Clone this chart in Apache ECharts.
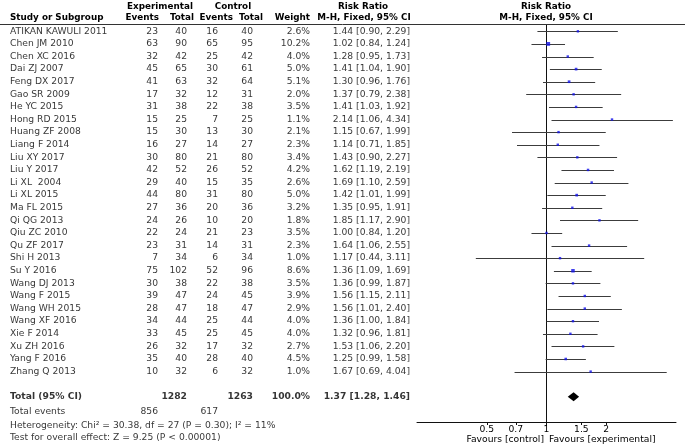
<!DOCTYPE html>
<html><head><meta charset="utf-8">
<script src="https://cdn.jsdelivr.net/npm/echarts@6/dist/echarts.min.js"></script>
<style>html,body{margin:0;padding:0;background:#fff}#c{width:685px;height:448px}</style>
</head><body><div id="c"></div>
<script>
// ---- data ----
const studies = ['ATIKAN KAWULI 2011','Chen JM 2010','Chen XC 2016','Dai ZJ 2007','Feng DX 2017','Gao SR 2009','He YC 2015','Hong RD 2015','Huang ZF 2008','Liang F 2014','Liu XY 2017','Liu Y 2017','Li XL  2004','Li XL 2015','Ma FL 2015','Qi QG 2013','Qiu ZC 2010','Qu ZF 2017','Shi H 2013','Su Y 2016','Wang DJ 2013','Wang F 2015','Wang WH 2015','Wang XF 2016','Xie F 2014','Xu ZH 2016','Yang F 2016','Zhang Q 2013'];
const expEvents = [23,63,32,45,41,17,31,15,15,16,30,42,29,44,27,24,22,23,7,75,30,39,28,34,33,26,35,10];
const expTotal  = [40,90,42,65,63,32,38,25,30,27,80,52,40,80,36,26,24,31,34,102,38,47,47,44,45,32,40,32];
const ctrlEvents= [16,65,25,30,32,12,22,7,13,14,21,26,15,31,20,10,21,14,6,52,22,24,18,25,25,17,28,6];
const ctrlTotal = [40,95,42,61,64,31,38,25,30,27,80,52,35,80,36,20,23,31,34,96,38,45,47,44,45,32,40,32];
const weights   = [2.6,10.2,4.0,5.0,5.1,2.0,3.5,1.1,2.1,2.3,3.4,4.2,2.6,5.0,3.2,1.8,3.5,2.3,1.0,8.6,3.5,3.9,2.9,4.0,4.0,2.7,4.5,1.0];
const rr        = [1.44,1.02,1.28,1.41,1.30,1.37,1.41,2.14,1.15,1.14,1.43,1.62,1.69,1.42,1.35,1.85,1.00,1.64,1.17,1.36,1.36,1.56,1.56,1.36,1.32,1.53,1.25,1.67];
const ciLow     = [0.90,0.84,0.95,1.04,0.96,0.79,1.03,1.06,0.67,0.71,0.90,1.19,1.10,1.01,0.95,1.17,0.84,1.06,0.44,1.09,0.99,1.15,1.01,1.00,0.96,1.06,0.99,0.69];
const ciHigh    = [2.29,1.24,1.73,1.90,1.76,2.38,1.92,4.34,1.99,1.85,2.27,2.19,2.59,1.99,1.91,2.90,1.20,2.55,3.11,1.69,1.87,2.11,2.40,1.84,1.81,2.20,1.58,4.04];
const totalExp = 1282, totalCtrl = 1263, totalWeight = 100.0;
const totalRR = 1.37, totalLow = 1.28, totalHigh = 1.46;
const totalEventsExp = 856, totalEventsCtrl = 617;
const heterogeneityText = 'Heterogeneity: Chi\u00b2 = 30.38, df = 27 (P = 0.30); I\u00b2 = 11%';
const overallText = 'Test for overall effect: Z = 9.25 (P < 0.00001)';
const tickValues = [0.5, 0.7, 1, 1.5, 2];

// ---- layout ----
const FONT = 'DejaVu Sans';
const FS = 9.2;
const HFS = 8.8;
const TXT = '#000';
const rows = studies.map((_, i) => i);
const totalRow = 29;
const footerRows = [30.2, 31.3, 32.25];

const fmt2 = v => v.toFixed(2);
const ciText = (r, l, h) => fmt2(r) + ' [' + fmt2(l) + ', ' + fmt2(h) + ']';

function textSeries(x, items, align, bold) {
  return {
    type: 'scatter', xAxisIndex: 1, yAxisIndex: 1, symbolSize: 0, silent: true, clip: false,
    data: items.map(it => [x, it[0], it[1]]),
    label: { show: true, position: 'inside', align: align, verticalAlign: 'middle',
      formatter: p => p.value[2], fontFamily: FONT, fontSize: FS, color: TXT,
      fontWeight: bold ? 'bold' : 'normal' },
    z: 5
  };
}

const chart = echarts.init(document.getElementById('c'), null, { renderer: 'canvas' });

const series = [
  textSeries(10, studies.map((s, i) => [i, s]), 'left'),
  textSeries(158, expEvents.map((v, i) => [i, String(v)]), 'right'),
  textSeries(187, expTotal.map((v, i) => [i, String(v)]), 'right'),
  textSeries(218, ctrlEvents.map((v, i) => [i, String(v)]), 'right'),
  textSeries(253, ctrlTotal.map((v, i) => [i, String(v)]), 'right'),
  textSeries(310, weights.map((v, i) => [i, v.toFixed(1) + '%']), 'right'),
  textSeries(410, rr.map((v, i) => [i, ciText(v, ciLow[i], ciHigh[i])]), 'right'),
  // total row
  textSeries(10, [[totalRow, 'Total (95% CI)']], 'left', true),
  textSeries(187, [[totalRow, String(totalExp)]], 'right', true),
  textSeries(253, [[totalRow, String(totalCtrl)]], 'right', true),
  textSeries(310, [[totalRow, totalWeight.toFixed(1) + '%']], 'right', true),
  textSeries(410, [[totalRow, ciText(totalRR, totalLow, totalHigh)]], 'right', true),
  // footer
  textSeries(10, [[footerRows[0], 'Total events'], [footerRows[1], heterogeneityText], [footerRows[2], overallText]], 'left'),
  textSeries(158, [[footerRows[0], String(totalEventsExp)]], 'right'),
  textSeries(218, [[footerRows[0], String(totalEventsCtrl)]], 'right'),
  // null line
  {
    type: 'line', xAxisIndex: 0, yAxisIndex: 0, symbol: 'none', silent: true,
    data: [[1, -0.5], [1, 31]], lineStyle: { color: '#111', width: 1 }, z: 2
  },
  // CI whiskers
  {
    type: 'custom', xAxisIndex: 0, yAxisIndex: 0, silent: true,
    data: rows.map(i => [ciLow[i], ciHigh[i], i]),
    encode: { x: [0, 1], y: 2 },
    renderItem: (params, api) => {
      const a = api.coord([api.value(0), api.value(2)]);
      const b = api.coord([api.value(1), api.value(2)]);
      const y = Math.round(a[1]) + 0.5;
      return { type: 'line', shape: { x1: a[0], y1: y, x2: b[0], y2: y },
        style: { stroke: '#3c3c3c', lineWidth: 1 } };
    }, z: 3
  },
  // squares
  {
    type: 'scatter', xAxisIndex: 0, yAxisIndex: 0, symbol: 'rect', silent: true,
    data: rows.map(i => [rr[i], i, weights[i]]),
    symbolSize: v => Math.max(2.4, Math.sqrt(v[2]) * 1.2),
    itemStyle: { color: '#1010e8' }, z: 4
  },
  // diamond
  {
    type: 'custom', xAxisIndex: 0, yAxisIndex: 0, silent: true,
    data: [[totalLow, totalRR, totalHigh, totalRow]],
    encode: { x: [0, 1, 2], y: 3 },
    renderItem: (params, api) => {
      const l = api.coord([api.value(0), api.value(3)]);
      const c = api.coord([api.value(1), api.value(3)]);
      const h = api.coord([api.value(2), api.value(3)]);
      return { type: 'polygon', shape: { points: [[l[0], c[1]], [c[0], c[1] - 4.5], [h[0], c[1]], [c[0], c[1] + 4.5]] },
        style: { fill: '#000' } };
    }, z: 4
  }
];

const bold = { fontFamily: FONT, fontSize: HFS, fontWeight: 'bold', fill: TXT };
function hdr(text, x, y, align) {
  return { type: 'text', x: x, y: y, silent: true,
    style: Object.assign({ text: text, textAlign: align, textVerticalAlign: 'middle' }, bold) };
}

chart.setOption({
  animation: false,
  grid: [
    { left: 417, right: 9, top: 25, bottom: 26 },
    { left: 0, right: 0, top: 25, bottom: 7.2 }
  ],
  xAxis: [
    {
      type: 'log', logBase: 10, gridIndex: 0, min: 1 / 4.5, max: 4.5,
      axisLine: { show: true, onZero: false, lineStyle: { color: '#111', width: 1 } },
      axisTick: { show: true, customValues: tickValues, length: 3, lineStyle: { color: '#111' } },
      axisLabel: { show: true, customValues: tickValues, margin: 3, fontFamily: FONT, fontSize: FS, color: TXT,
        formatter: v => String(Math.round(v * 10) / 10) },
      splitLine: { show: false }, minorTick: { show: false }
    },
    { type: 'value', gridIndex: 1, min: 0, max: 685, show: false }
  ],
  yAxis: [
    { type: 'value', gridIndex: 0, min: -0.5, max: 31, inverse: true, show: false },
    { type: 'value', gridIndex: 1, min: -0.5, max: 32.5, inverse: true, show: false }
  ],
  graphic: [
    hdr('Experimental', 160, 6.5, 'center'),
    hdr('Control', 233, 6.5, 'center'),
    hdr('Risk Ratio', 363, 6.5, 'center'),
    hdr('Risk Ratio', 546, 6.5, 'center'),
    hdr('Study or Subgroup', 10, 18, 'left'),
    hdr('Events', 159, 18, 'right'),
    hdr('Total', 194, 18, 'right'),
    hdr('Events', 233, 18, 'right'),
    hdr('Total', 263, 18, 'right'),
    hdr('Weight', 310, 18, 'right'),
    hdr('M-H, Fixed, 95% CI', 364, 18, 'center'),
    hdr('M-H, Fixed, 95% CI', 546, 18, 'center'),
    { type: 'line', silent: true, shape: { x1: 0, y1: 24.5, x2: 685, y2: 24.5 }, style: { stroke: '#333', lineWidth: 1 } },
    { type: 'text', x: 544, y: 439.5, silent: true,
      style: { text: 'Favours [control]', textAlign: 'right', textVerticalAlign: 'middle', fontFamily: FONT, fontSize: FS, fill: TXT } },
    { type: 'text', x: 549, y: 439.5, silent: true,
      style: { text: 'Favours [experimental]', textAlign: 'left', textVerticalAlign: 'middle', fontFamily: FONT, fontSize: FS, fill: TXT } }
  ],
  series: series
});
</script>
</body></html>
